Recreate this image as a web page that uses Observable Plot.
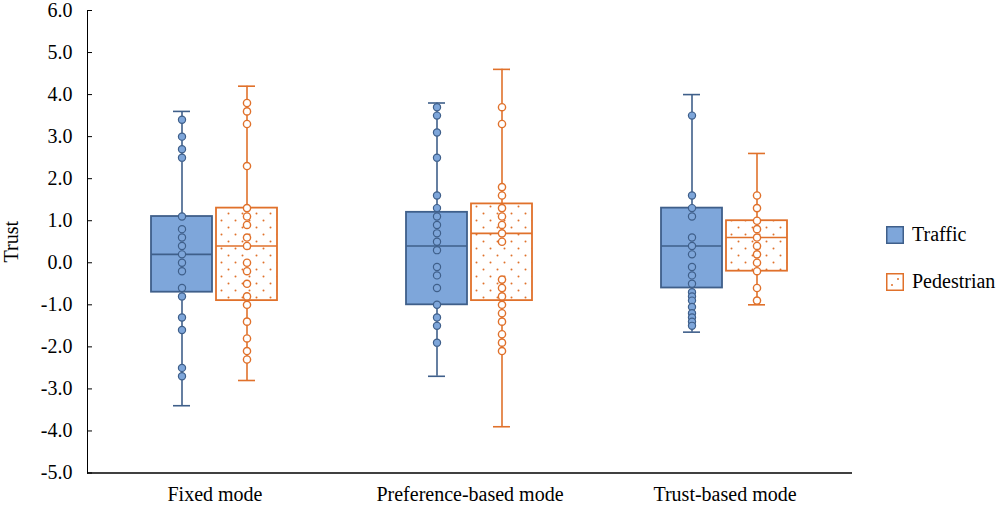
<!DOCTYPE html>
<html><head><meta charset="utf-8">
<script src="https://cdn.jsdelivr.net/npm/d3@7"></script>
<script src="https://cdn.jsdelivr.net/npm/@observablehq/plot@0.6"></script>
<style>
body{margin:0;background:#fff;font-family:"Liberation Serif",serif;}
#wrap{position:relative;width:1001px;height:509px;overflow:hidden;}
#chart svg, #chart svg text{font-family:"Liberation Serif",serif !important;}
#chart svg text{font-size:20px !important;}
#legend{position:absolute;left:886px;top:226px;font-size:20px;color:#000;font-family:"Liberation Serif",serif;}
#legend .item{display:flex;align-items:center;height:17px;margin-bottom:30px;white-space:nowrap;}
#legend svg{margin-right:8px;flex:none;}
</style></head><body>
<div id="wrap"><div id="chart"></div>
<div id="legend">
<div class="item"><svg width="18" height="18"><rect x="0.75" y="0.75" width="16.5" height="16.5" fill="#7ea6da" stroke="#3f5f8a" stroke-width="1.5"/></svg>Traffic</div>
<div class="item"><svg width="18" height="18"><rect x="0.75" y="0.75" width="16.5" height="16.5" fill="#fff" stroke="#e0712b" stroke-width="1.5"/><circle cx="6" cy="12" r="1" fill="#e0712b"/><circle cx="12" cy="6" r="1" fill="#e0712b"/></svg>Pedestrian</div>
</div></div>
<script>
const groups = ["Fixed mode", "Preference-based mode", "Trust-based mode"];
const series = ["Traffic", "Pedestrian"];
const yTicks = [-5, -4, -3, -2, -1, 0, 1, 2, 3, 4, 5, 6];

const trafficMin = [-3.4, -2.7, -1.65];
const trafficQ1 = [-0.7, -1.0, -0.6];
const trafficMedian = [0.2, 0.4, 0.4];
const trafficQ3 = [1.1, 1.2, 1.3];
const trafficMax = [3.6, 3.8, 4.0];

const pedestrianMin = [-2.8, -3.9, -1.0];
const pedestrianQ1 = [-0.9, -0.9, -0.2];
const pedestrianMedian = [0.4, 0.7, 0.6];
const pedestrianQ3 = [1.3, 1.4, 1.0];
const pedestrianMax = [4.2, 4.6, 2.6];

const trafficFixed = [3.4, 3.0, 2.7, 2.5, 1.1, 0.8, 0.6, 0.4, 0.2, 0.0, -0.2, -0.6, -0.8, -1.3, -1.6, -2.5, -2.7];
const trafficPref = [3.7, 3.5, 3.1, 2.5, 1.6, 1.3, 1.1, 0.9, 0.7, 0.5, 0.3, -0.1, -0.3, -0.6, -1.0, -1.3, -1.5, -1.9];
const trafficTrust = [3.5, 1.6, 1.3, 1.1, 0.6, 0.4, 0.2, -0.1, -0.3, -0.5, -0.7, -0.8, -0.9, -1.05, -1.2, -1.3, -1.4, -1.5];
const pedestrianFixed = [3.8, 3.6, 3.3, 2.3, 1.3, 1.1, 0.9, 0.6, 0.4, 0.0, -0.2, -0.5, -0.8, -1.0, -1.4, -1.8, -2.1, -2.3];
const pedestrianPref = [3.7, 3.3, 1.8, 1.6, 1.3, 1.1, 0.9, 0.7, 0.5, -0.4, -0.6, -0.8, -1.0, -1.2, -1.4, -1.7, -1.9, -2.1];
const pedestrianTrust = [1.6, 1.3, 1.0, 0.8, 0.6, 0.4, 0.2, 0.0, -0.2, -0.6, -0.9];

const blueFill = "#7ea6da", blueStroke = "#3f5f8a", orange = "#e0712b";

const boxes = [];
groups.forEach((g, i) => {
  boxes.push({group: g, series: "Traffic", min: trafficMin[i], q1: trafficQ1[i], median: trafficMedian[i], q3: trafficQ3[i], max: trafficMax[i]});
  boxes.push({group: g, series: "Pedestrian", min: pedestrianMin[i], q1: pedestrianQ1[i], median: pedestrianMedian[i], q3: pedestrianQ3[i], max: pedestrianMax[i]});
});
const pts = [];
[[trafficFixed, trafficPref, trafficTrust], [pedestrianFixed, pedestrianPref, pedestrianTrust]].forEach((arrs, s) => {
  arrs.forEach((arr, i) => arr.forEach(v => pts.push({group: groups[i], series: series[s], value: v})));
});
const T = boxes.filter(d => d.series === "Traffic");
const P = boxes.filter(d => d.series === "Pedestrian");
const tp = pts.filter(d => d.series === "Traffic");
const pp = pts.filter(d => d.series === "Pedestrian");

const chart = Plot.plot({
  width: 1001, height: 509,
  marginLeft: 86, marginRight: 149, marginTop: 10, marginBottom: 36.5,
  style: {fontFamily: "Liberation Serif", fontSize: "20px", color: "#000", background: "#fff"},
  fx: {domain: groups, padding: 0, label: null, tickSize: 0, tickPadding: 14, axis: "bottom"},
  x: {domain: series, paddingInner: 0.06, paddingOuter: 0.99, axis: null},
  y: {domain: [-5, 6], ticks: yTicks, tickFormat: d => d.toFixed(1), label: "Trust", labelAnchor: "center", labelArrow: "none", labelOffset: 84, tickSize: -5, tickPadding: 20, line: true},
  marks: [
    Plot.ruleY([-5], {stroke: "#000", strokeWidth: 1.5}),
    Plot.ruleX(T, {fx: "group", x: "series", y1: "min", y2: "max", stroke: blueStroke, strokeWidth: 1.6}),
    Plot.ruleX(P, {fx: "group", x: "series", y1: "min", y2: "max", stroke: orange, strokeWidth: 1.6}),
    Plot.tickY(T, {fx: "group", x: "series", y: "min", stroke: blueStroke, strokeWidth: 1.6, insetLeft: 22, insetRight: 22}),
    Plot.tickY(T, {fx: "group", x: "series", y: "max", stroke: blueStroke, strokeWidth: 1.6, insetLeft: 22, insetRight: 22}),
    Plot.tickY(P, {fx: "group", x: "series", y: "min", stroke: orange, strokeWidth: 1.6, insetLeft: 22, insetRight: 22}),
    Plot.tickY(P, {fx: "group", x: "series", y: "max", stroke: orange, strokeWidth: 1.6, insetLeft: 22, insetRight: 22}),
    Plot.barY(T, {fx: "group", x: "series", y1: "q1", y2: "q3", fill: blueFill, stroke: blueStroke, strokeWidth: 1.8}),
    Plot.barY(P, {fx: "group", x: "series", y1: "q1", y2: "q3", fill: "url(#dots)", stroke: orange, strokeWidth: 1.8}),
    Plot.tickY(T, {fx: "group", x: "series", y: "median", stroke: blueStroke, strokeWidth: 1.6}),
    Plot.tickY(P, {fx: "group", x: "series", y: "median", stroke: orange, strokeWidth: 1.6}),
    Plot.dot(tp, {fx: "group", x: "series", y: "value", r: 3.6, fill: blueFill, stroke: blueStroke, strokeWidth: 1.2}),
    Plot.dot(pp, {fx: "group", x: "series", y: "value", r: 3.6, fill: "#fff", stroke: orange, strokeWidth: 1.4})
  ]
});
const ns = "http://www.w3.org/2000/svg";
const defs = document.createElementNS(ns, "defs");
defs.innerHTML = `<pattern id="dots" patternUnits="userSpaceOnUse" width="14" height="14"><rect width="14" height="14" fill="#fff"/><circle cx="3.5" cy="3.5" r="1" fill="${orange}"/><circle cx="10.5" cy="10.5" r="1" fill="${orange}"/></pattern>`;
chart.insertBefore(defs, chart.firstChild);
document.getElementById("chart").appendChild(chart);
</script>
</body></html>
